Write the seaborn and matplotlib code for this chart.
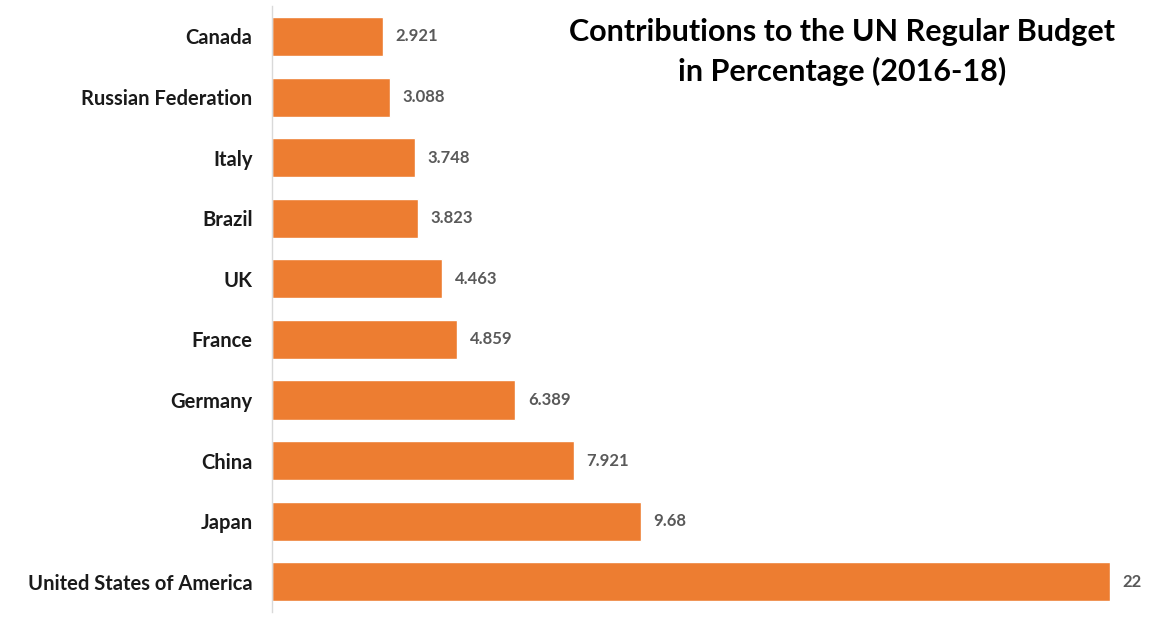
import matplotlib
matplotlib.use("Agg")
import matplotlib.pyplot as plt
import seaborn as sns
import pandas as pd

countries = ["Canada", "Russian Federation", "Italy", "Brazil", "UK", "France",
             "Germany", "China", "Japan", "United States of America"]
values = [2.921, 3.088, 3.748, 3.823, 4.463, 4.859, 6.389, 7.921, 9.68, 22]
value_labels = ["2.921", "3.088", "3.748", "3.823", "4.463", "4.859",
                "6.389", "7.921", "9.68", "22"]
title = "Contributions to the UN Regular Budget\nin Percentage (2016-18)"

sns.set_theme(style="white")
plt.rcParams['font.family'] = ['Lato', 'DejaVu Sans']

df = pd.DataFrame({"country": countries, "value": values})

fig = plt.figure(figsize=(11.55, 6.17), dpi=100)
ax = fig.add_axes([0.2355, 0.008, 0.7255, 0.982])
sns.barplot(data=df, y="country", x="value", color="#ED7D31", saturation=1,
            width=0.645, ax=ax, orient="h")

ax.set_xlim(0, 22)
ax.set_ylim(len(countries) - 0.5, -0.5)
ax.set_xlabel("")
ax.set_ylabel("")
ax.set_xticks([])
for s in ["top", "right", "bottom"]:
    ax.spines[s].set_visible(False)
ax.spines["left"].set_color("#D9D9D9")
ax.spines["left"].set_linewidth(1.0)
ax.tick_params(axis="y", length=0, pad=14)
for lbl in ax.get_yticklabels():
    lbl.set_fontweight("bold")
    lbl.set_fontsize(14.5)
    lbl.set_color("#1a1a1a")

for i, (v, t) in enumerate(zip(values, value_labels)):
    ax.annotate(t, xy=(v, i), xytext=(9, 0), textcoords="offset points",
                va="center", ha="left", fontsize=12, fontweight="bold",
                color="#595959", annotation_clip=False)

fig.text(0.729, 0.915, title, ha="center", va="center", fontsize=22,
         fontweight="bold", color="#000000", linespacing=1.45)

fig.savefig("out.png", dpi=100)
